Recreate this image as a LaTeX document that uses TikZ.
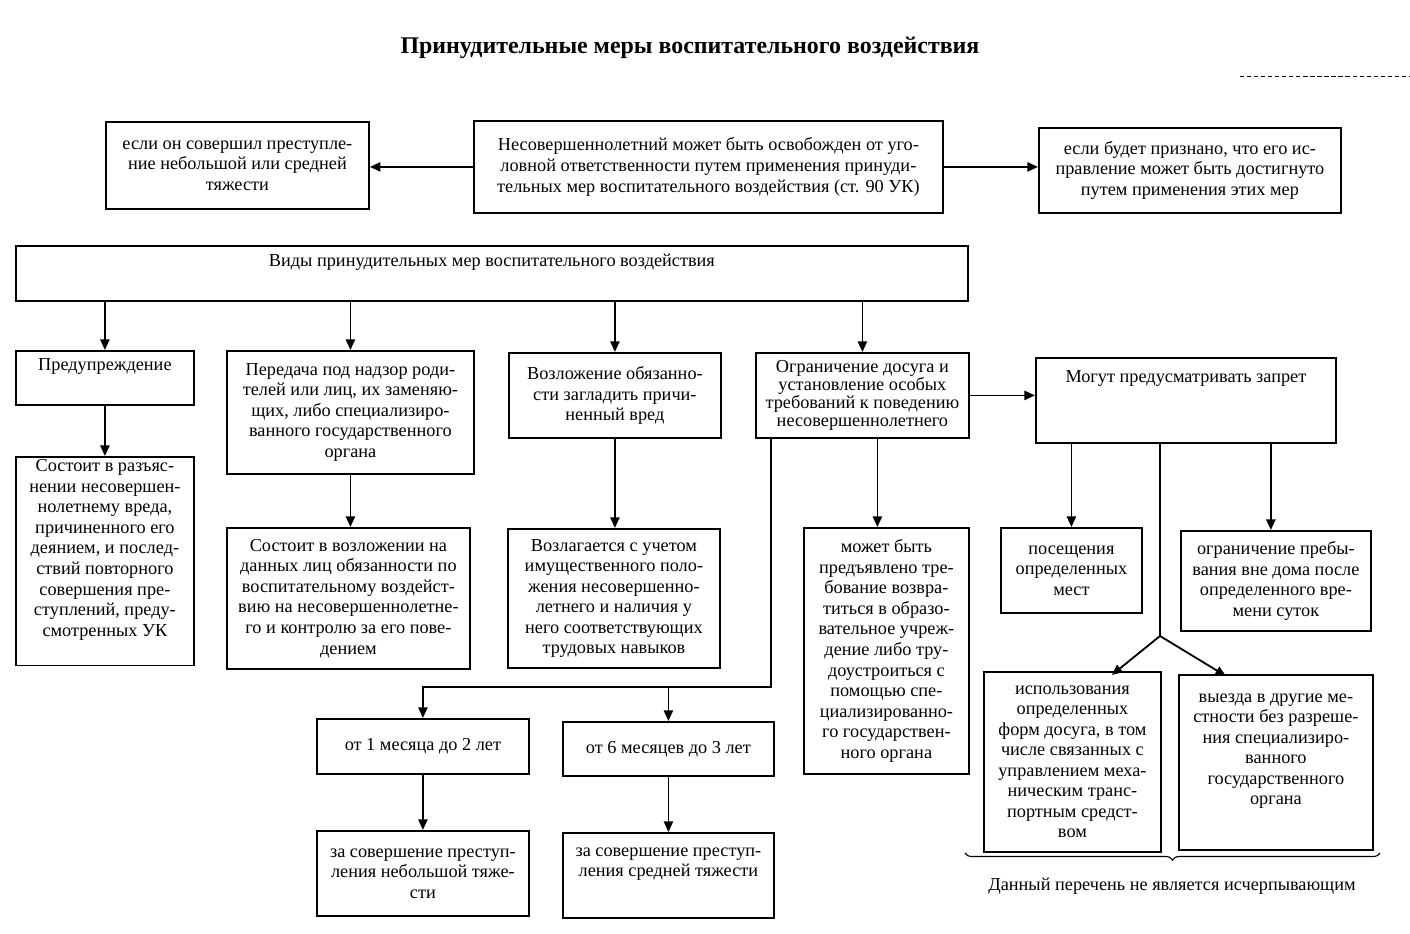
\documentclass[tikz,border=0pt]{standalone}
\usepackage{fontspec}
\setmainfont{Liberation Serif}
\usetikzlibrary{arrows.meta}
\usetikzlibrary{decorations.pathreplacing}
\newlength{\px}
\setlength{\px}{0.025cm}
\begin{document}
\begin{tikzpicture}[x=0.025cm,y=-0.025cm,>={Triangle[length=7.5pt,width=6.5pt]},
  every node/.style={font=\fontsize{13}{14.6}\selectfont},
  box/.style={draw,line width=1.3pt,align=center,anchor=north west,inner sep=2pt},
  arr/.style={->,line width=1.3pt}]
  \useasboundingbox (0,0) rectangle (1410,934);
  \node[font=\fontsize{17}{19}\selectfont\bfseries] (title) at (690,48) {Принудительные меры воспитательного воздействия};
  \draw[densely dashed,line width=0.6pt] (1240,76) -- (1410,76);

  \node[box,minimum width=263\px,minimum height=87\px] (cond) at (105,121) {если он совершил преступле-\\ние небольшой или средней\\тяжести};
  \node[box,minimum width=469\px,minimum height=92\px] (main) at (473,120) {Несовершеннолетний может быть освобожден от уго-\\ловной ответственности путем применения принуди-\\тельных мер воспитательного воздействия (ст. 90 УК)};
  \node[box,minimum width=302\px,minimum height=85\px] (fix) at (1038,127) {если будет признано, что его ис-\\правление может быть достигнуто\\путем применения этих мер};
  \node[box,minimum width=952\px,minimum height=55\px] (kinds) at (15,245) {Виды принудительных мер воспитательного воздействия\\\strut};

  \node[box,minimum width=178\px,minimum height=54\px] (warn) at (15,350) {Предупреждение\\\strut};
  \node[box,minimum width=247\px,minimum height=123\px] (trans) at (226,350) {Передача под надзор роди-\\телей или лиц, их заменяю-\\щих, либо специализиро-\\ванного государственного\\органа};
  \node[box,minimum width=212\px,minimum height=85\px] (duty) at (508,352) {Возложение обязанно-\\сти загладить причи-\\ненный вред};
  \node[box,minimum width=213\px,minimum height=85\px,font=\fontsize{13}{12.6}\selectfont] (lim) at (755,352) {Ограничение досуга и\\установление особых\\требований к поведению\\несовершеннолетнего};
  \node[box,minimum width=300\px,minimum height=85\px] (ban) at (1035,357) {Могут предусматривать запрет\\\strut\\\strut};

  \node[box,minimum width=178\px,minimum height=207\px] (warnx) at (15,456) {Состоит в разъяс-\\нении несовершен-\\нолетнему вреда,\\причиненного его\\деянием, и послед-\\ствий повторного\\совершения пре-\\ступлений, преду-\\смотренных УК\\\strut};
  \node[box,minimum width=243\px,minimum height=141\px] (transx) at (226,527) {Состоит в возложении на\\данных лиц обязанности по\\воспитательному воздейст-\\вию на несовершеннолетне-\\го и контролю за его пове-\\дением};
  \node[box,minimum width=212\px,minimum height=139\px] (dutyx) at (507,528) {Возлагается с учетом\\имущественного поло-\\жения несовершенно-\\летнего и наличия у\\него соответствующих\\трудовых навыков};
  \node[box,minimum width=165\px,minimum height=246\px] (limx) at (803,527) {может быть\\предъявлено тре-\\бование возвра-\\титься в образо-\\вательное учреж-\\дение либо тру-\\доустроиться с\\помощью спе-\\циализированно-\\го государствен-\\ного органа};
  \node[box,minimum width=141\px,minimum height=85\px] (visit) at (1000,527) {посещения\\определенных\\мест};
  \node[box,minimum width=190\px,minimum height=100\px] (stay) at (1180,530) {ограничение пребы-\\вания вне дома после\\определенного вре-\\мени суток};
  \node[box,minimum width=177\px,minimum height=180\px] (leis) at (983,671) {использования\\определенных\\форм досуга, в том\\числе связанных с\\управлением меха-\\ническим транс-\\портным средст-\\вом};
  \node[box,minimum width=194\px,minimum height=175\px] (trip) at (1178,674) {выезда в другие ме-\\стности без разреше-\\ния специализиро-\\ванного\\государственного\\органа\\\strut};

  \node[box,minimum width=212\px,minimum height=55\px] (mon1) at (316,718) {от 1 месяца до 2 лет};
  \node[box,minimum width=211\px,minimum height=54\px] (mon6) at (562,721) {от 6 месяцев до 3 лет};
  \node[box,minimum width=212\px,minimum height=85\px] (small) at (316,830) {за совершение преступ-\\ления небольшой тяже-\\сти};
  \node[box,minimum width=211\px,minimum height=85\px] (mid) at (562,832) {за совершение преступ-\\ления средней тяжести\\\strut};
  \node (note) at (1172,886) {Данный перечень не является исчерпывающим};

  \coordinate (bend) at (771,687);
  \coordinate (fork) at (1160,636);

  \draw[arr] (main.west) -- (main.west -| cond.east);
  \draw[arr] (main.east) -- (main.east -| fix.west);
  \draw[arr] (warn.north |- kinds.south) -- (warn.north);
  \draw[arr] (trans.north |- kinds.south) -- (trans.north);
  \draw[arr] (duty.north |- kinds.south) -- (duty.north);
  \draw[arr] (lim.north |- kinds.south) -- (lim.north);
  \draw[arr] (warn.south) -- (warnx.north);
  \draw[arr] (trans.south) -- (trans.south |- transx.north);
  \draw[arr] (duty.south) -- (duty.south |- dutyx.north);
  \draw[arr] ([xshift=15\px]lim.south) -- ([xshift=15\px]lim.south |- limx.north);
  \draw[arr] (lim.east) -- (lim.east -| ban.west);
  \draw[arr] (visit.north |- ban.south) -- (visit.north);
  \draw[arr] ([xshift=-5\px]stay.north |- ban.south) -- ([xshift=-5\px]stay.north);
  \draw[line width=1.3pt] (fork |- ban.south) -- (fork);
  \draw[arr] (fork) -- ([xshift=-50\px,yshift=-4\px]leis.north east);
  \draw[arr] (fork) -- ([xshift=-50\px,yshift=-2\px]trip.north);
  \draw[arr] (lim.south -| bend) -- (bend) -| (mon1.north);
  \draw[arr] (mon6.north |- bend) -- (mon6.north);
  \draw[arr] (mon1.south) -- (small.north);
  \draw[arr] (mon6.south) -- (mid.north);
  \draw[line width=0.8pt,decorate,decoration={brace,mirror,amplitude=5pt}] (965,853) -- (1380,853);
\end{tikzpicture}
\end{document}
